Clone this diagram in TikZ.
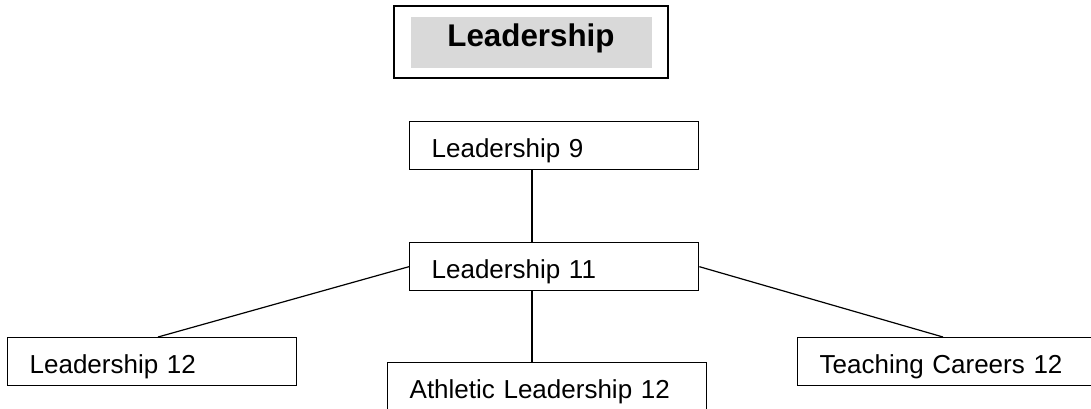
\documentclass[tikz,border=0pt]{standalone}
\usepackage{fontspec}
\setmainfont{Liberation Sans}
\usetikzlibrary{calc}
\definecolor{titlegrey}{HTML}{D9D9D9}
\tikzset{
  course/.style={draw,line width=1pt,rectangle,align=left,inner xsep=16.5pt,inner ysep=0pt,
    text height=27pt,text depth=9pt,font=\fontsize{19.5}{23}\selectfont},
  link/.style={draw,-,line width=0.9pt}
}
\begin{document}
\begin{tikzpicture}[x=0.75pt,y=-0.75pt]
      \useasboundingbox (0,0) rectangle (1091,408);
      % title
      \node[draw,line width=1.3pt,minimum width=205.5pt,minimum height=54pt] (titlebox) at (531,42) {};
      \node[fill=titlegrey,minimum width=180.75pt,inner sep=0pt,text height=22.5pt,text depth=15.75pt,
        font=\bfseries\fontsize{23.5}{27}\selectfont] (title) at (titlebox.center) {Leadership};

      \def \Boxes {
        lead9/409/121/289/Leadership 9,
        lead11/409/242/289/Leadership 11,
        lead12/7/337/289/Leadership 12,
        athletic/387/362/319/Athletic Leadership 12,
        teaching/797/337/330/Teaching Careers 12}
      \def \Edges {
        lead9.south -| spine/lead11.north -| spine,
        lead11.south -| spine/athletic.north -| spine,
        lead11.west/lead12top,
        lead11.east/teachingtop}

      \foreach \id / \x / \y / \w / \txt in \Boxes {
        \pgfmathsetmacro\tw{(\w-44)*0.75}
        \node[course,text width=\tw pt,anchor=north west] (\id) at (\x, \y) {\txt};
      }
      \coordinate (spine) at ($(lead9.south west)+(123,0)$);
      \coordinate (lead12top) at ($(lead12.north west)+(151,0)$);
      \coordinate (teachingtop) at ($(teaching.north west)+(146,0)$);
      \foreach \a / \b in \Edges {
        \path[link] (\a) -- (\b);
      }
    \end{tikzpicture}
\end{document}
